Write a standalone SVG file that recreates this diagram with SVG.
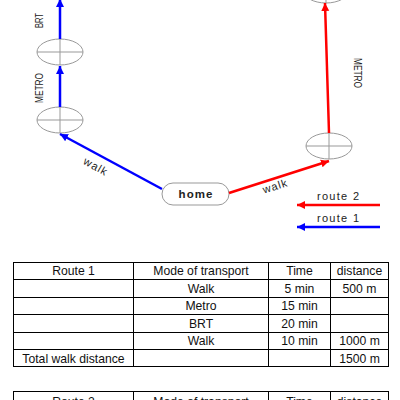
<svg xmlns="http://www.w3.org/2000/svg" width="400" height="400" viewBox="0 0 400 400">
<style>
.st{fill:#fff;stroke:#999;stroke-width:1}
.ch{stroke:#999;stroke-width:1}
.bl{stroke:#0000ff;stroke-width:2.5;fill:none}
.rd{stroke:#ff0000;stroke-width:2.5;fill:none}
.lbl{font-family:"Liberation Sans",Arial,sans-serif;font-size:11.5px;fill:#222}
.sm{font-family:"Liberation Sans",Arial,sans-serif;font-size:11px;fill:#222}
.tb{font-family:"Liberation Sans",Arial,sans-serif;font-size:12.2px;fill:#111;text-anchor:middle}
.grid line{stroke:#000;stroke-width:1}
</style>
<defs>
<marker id="ab" viewBox="0 0 10 10" refX="10" refY="5" markerUnits="userSpaceOnUse" markerWidth="8" markerHeight="9" orient="auto"><path d="M0,0 L10,5 L0,10 z" fill="#0000ff"/></marker>
<marker id="ar" viewBox="0 0 10 10" refX="10" refY="5" markerUnits="userSpaceOnUse" markerWidth="8" markerHeight="9" orient="auto"><path d="M0,0 L10,5 L0,10 z" fill="#ff0000"/></marker>
</defs>

<g id="stop-red-top"><ellipse class="st" cx="326" cy="-10" rx="23" ry="13"/><line class="ch" x1="303" y1="-10" x2="349" y2="-10"/><line class="ch" x1="326" y1="-23" x2="326" y2="3"/></g>
<g id="stop-blue-upper"><ellipse class="st" cx="60" cy="52" rx="23" ry="13"/><line class="ch" x1="37" y1="52" x2="83" y2="52"/><line class="ch" x1="60" y1="39" x2="60" y2="65"/></g>
<g id="stop-blue-lower"><ellipse class="st" cx="60" cy="120" rx="23" ry="13"/><line class="ch" x1="37" y1="120" x2="83" y2="120"/><line class="ch" x1="60" y1="107" x2="60" y2="133"/></g>
<g id="stop-red"><ellipse class="st" cx="329" cy="146" rx="23" ry="13"/><line class="ch" x1="306" y1="146" x2="352" y2="146"/><line class="ch" x1="329" y1="133" x2="329" y2="159"/></g>
<g id="home"><rect x="162" y="183" width="67" height="22" rx="11" ry="11" fill="#fff" stroke="#999" stroke-width="1"/><text x="195.5" y="198" font-family="'Liberation Sans',Arial,sans-serif" font-size="11.5" font-weight="bold" fill="#222" text-anchor="middle" textLength="34" lengthAdjust="spacing">home</text></g>

<g id="connectors">
<line class="bl" x1="60" y1="39" x2="60" y2="-1" marker-end="url(#ab)"/>
<line class="bl" x1="60" y1="107" x2="60" y2="66" marker-end="url(#ab)"/>
<line class="bl" x1="162" y1="189" x2="60" y2="134" marker-end="url(#ab)"/>
<line class="rd" x1="229" y1="193" x2="329" y2="161" marker-end="url(#ar)"/>
<line class="rd" x1="329" y1="133" x2="325" y2="3" marker-end="url(#ar)"/>
<line class="rd" x1="380" y1="205" x2="297" y2="205" marker-end="url(#ar)"/>
<line class="bl" x1="380" y1="227" x2="297" y2="227" marker-end="url(#ab)"/>
<text class="lbl" transform="translate(43,20.5) rotate(-90)" text-anchor="middle" textLength="15" lengthAdjust="spacingAndGlyphs">BRT</text>
<text class="lbl" transform="translate(43,88) rotate(-90)" text-anchor="middle" textLength="30" lengthAdjust="spacingAndGlyphs">METRO</text>
<text class="lbl" transform="translate(354,73) rotate(90)" text-anchor="middle" textLength="30" lengthAdjust="spacingAndGlyphs">METRO</text>
<text class="sm" transform="translate(95,167) rotate(29)" text-anchor="middle" dy="3" textLength="25" lengthAdjust="spacing">walk</text>
<text class="sm" transform="translate(275,187) rotate(-17)" text-anchor="middle" dy="3" textLength="25" lengthAdjust="spacing">walk</text>
<text class="sm" x="338" y="199.5" text-anchor="middle" textLength="42" lengthAdjust="spacing">route 2</text>
<text class="sm" x="338" y="222" text-anchor="middle" textLength="42" lengthAdjust="spacing">route 1</text>
</g>

<g id="table1">
<g class="grid">
<line x1="13" y1="262.5" x2="389" y2="262.5"/>
<line x1="13" y1="279.5" x2="389" y2="279.5"/>
<line x1="13" y1="297.5" x2="389" y2="297.5"/>
<line x1="13" y1="314.5" x2="389" y2="314.5"/>
<line x1="13" y1="332.5" x2="389" y2="332.5"/>
<line x1="13" y1="349.5" x2="389" y2="349.5"/>
<line x1="13" y1="366.5" x2="389" y2="366.5"/>
<line x1="13.5" y1="262" x2="13.5" y2="367"/>
<line x1="133.5" y1="262" x2="133.5" y2="367"/>
<line x1="268.5" y1="262" x2="268.5" y2="367"/>
<line x1="330.5" y1="262" x2="330.5" y2="367"/>
<line x1="388.5" y1="262" x2="388.5" y2="367"/>
</g>
<text class="tb" x="73.5" y="275">Route 1</text>
<text class="tb" x="201" y="275">Mode of transport</text>
<text class="tb" x="299.5" y="275">Time</text>
<text class="tb" x="359.5" y="275">distance</text>
<text class="tb" x="201" y="292.5">Walk</text>
<text class="tb" x="299.5" y="292.5">5 min</text>
<text class="tb" x="359.5" y="292.5">500 m</text>
<text class="tb" x="201" y="310">Metro</text>
<text class="tb" x="299.5" y="310">15 min</text>
<text class="tb" x="201" y="327.5">BRT</text>
<text class="tb" x="299.5" y="327.5">20 min</text>
<text class="tb" x="201" y="345">Walk</text>
<text class="tb" x="299.5" y="345">10 min</text>
<text class="tb" x="359.5" y="345">1000 m</text>
<text class="tb" x="73.5" y="362.5">Total walk distance</text>
<text class="tb" x="359.5" y="362.5">1500 m</text>
</g>

<g id="table2">
<g class="grid">
<line x1="13" y1="391.5" x2="389" y2="391.5"/>
<line x1="13.5" y1="391" x2="13.5" y2="400"/>
<line x1="133.5" y1="391" x2="133.5" y2="400"/>
<line x1="268.5" y1="391" x2="268.5" y2="400"/>
<line x1="330.5" y1="391" x2="330.5" y2="400"/>
<line x1="388.5" y1="391" x2="388.5" y2="400"/>
</g>
<text class="tb" x="73.5" y="405.5">Route 2</text>
<text class="tb" x="201" y="405.5">Mode of transport</text>
<text class="tb" x="299.5" y="405.5">Time</text>
<text class="tb" x="359.5" y="405.5">distance</text>
</g>
</svg>
